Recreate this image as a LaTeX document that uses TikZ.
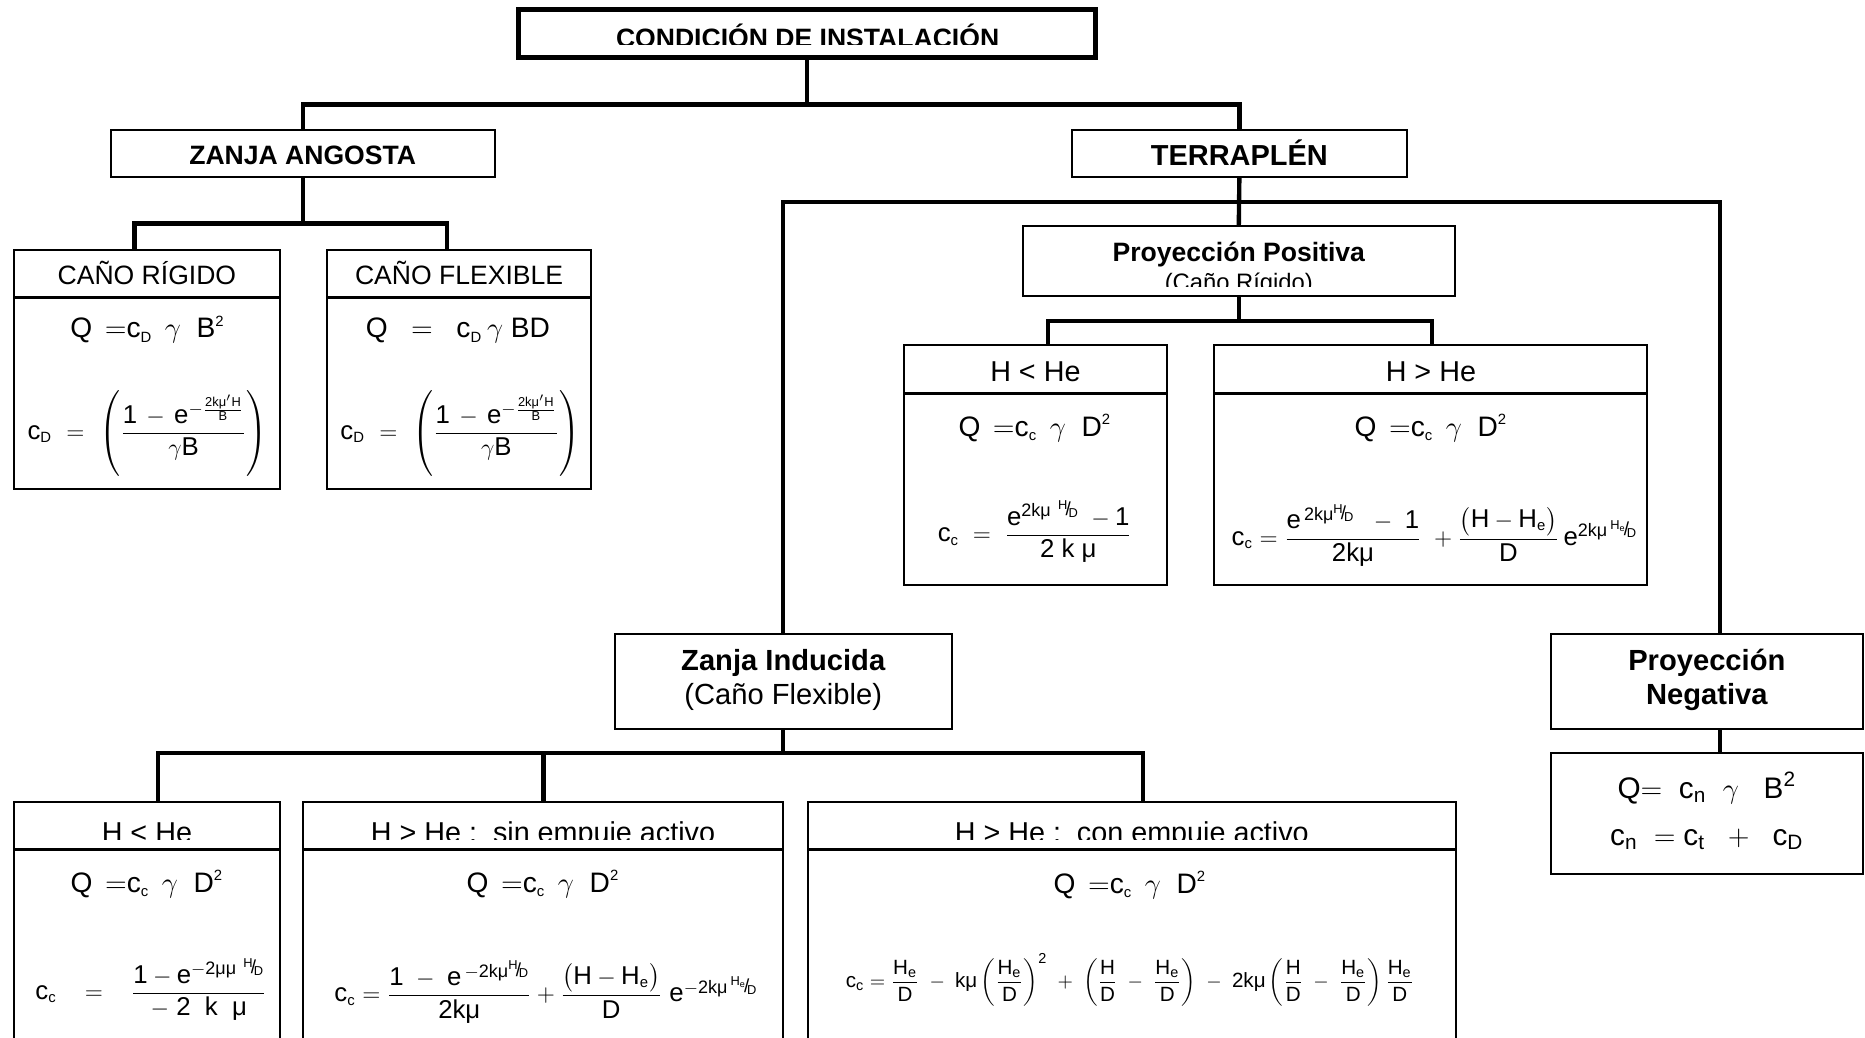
\documentclass[tikz,border=0pt]{standalone}
\usepackage{amsmath}
\usepackage{fontspec}
\setmainfont{Liberation Sans}
\usepackage{graphicx}
\newcommand\mt[1]{\text{#1}}
\newcommand\sbs[1]{\text{\fs{7.5}#1}}
\newcommand\fs[1]{\fontsize{#1}{#1}\selectfont}
\newcommand\slf[2]{\raisebox{0.4em}{\fs{6.5}#1}\kern-0.1em\raisebox{0.05em}{\fs{9.5}/}\kern-0.12em\raisebox{-0.05em}{\fs{6.5}#2}}
\newcommand\tallp{\rule[-19.5pt]{0pt}{44pt}}
\tikzset{
  bx/.style={draw, line width=1pt, inner sep=0pt, outer sep=0pt},
  conn/.style={line width=2.2pt, line join=miter},
  dv/.style={line width=1.4pt},
  hb/.style={font=\fs{13.4}\bfseries, anchor=base, inner sep=0pt},
  hr/.style={font=\fs{13.4}, anchor=base, inner sep=0pt},
  fm/.style={font=\fs{13}, inner sep=0pt},
  fq/.style={font=\fs{14.2}, inner sep=0pt, anchor=base},
}
\begin{document}
\begin{tikzpicture}[x=0.6pt,y=-0.6pt]
\clip (0,0) rectangle (1568,872);
\fill[white] (0,0) rectangle (1568,872);
% ---------- boxes ----------
\node[bx, line width=2.5pt, minimum width=485*0.6pt, minimum height=40*0.6pt] (top) at (678.5,28) {};
\node[bx, minimum width=323*0.6pt, minimum height=40*0.6pt] (zanja) at (254.5,129) {};
\node[bx, minimum width=282*0.6pt, minimum height=40*0.6pt] (terra) at (1042,129) {};
\node[bx, minimum width=223*0.6pt, minimum height=201*0.6pt] (rig) at (123.5,310.5) {};
\node[bx, minimum width=222*0.6pt, minimum height=201*0.6pt] (flex) at (386,310.5) {};
\node[bx, minimum width=363*0.6pt, minimum height=59*0.6pt] (ppos) at (1041.5,219.5) {};
\node[bx, minimum width=221*0.6pt, minimum height=202*0.6pt] (phl) at (870.5,391) {};
\node[bx, minimum width=364*0.6pt, minimum height=202*0.6pt] (phg) at (1203,391) {};
\node[bx, minimum width=283*0.6pt, minimum height=80*0.6pt] (zind) at (658.5,573) {};
\node[bx, minimum width=262*0.6pt, minimum height=80*0.6pt] (pneg) at (1435,573) {};
\node[bx, minimum width=262*0.6pt, minimum height=102*0.6pt] (pnegf) at (1435,684) {};
\node[bx, minimum width=223*0.6pt, minimum height=276*0.6pt] (bhl) at (123.5,812) {};
\node[bx, minimum width=403*0.6pt, minimum height=276*0.6pt] (bsin) at (456.5,812) {};
\node[bx, minimum width=545*0.6pt, minimum height=276*0.6pt] (bcon) at (951.5,812) {};
% ---------- dividers ----------
\coordinate (dA) at (0,250);
\coordinate (dB) at (0,331);
\coordinate (dC) at (0,714);
\draw[dv] (rig.west |- dA) -- (rig.east |- dA);
\draw[dv] (flex.west |- dA) -- (flex.east |- dA);
\draw[dv] (phl.west |- dB) -- (phl.east |- dB);
\draw[dv] (phg.west |- dB) -- (phg.east |- dB);
\draw[dv] (bhl.west |- dC) -- (bhl.east |- dC);
\draw[dv] (bsin.west |- dC) -- (bsin.east |- dC);
\draw[dv] (bcon.west |- dC) -- (bcon.east |- dC);
% ---------- connectors ----------
\coordinate (h0) at (0,88);
\coordinate (j1) at (113,188);
\coordinate (j2) at (376,188);
\coordinate (j4) at (1446,170);
\coordinate (j5) at (881,270);
\coordinate (j6) at (1204,270);
\coordinate (j7) at (133,633);
\coordinate (j8) at (961,633);
\coordinate (j9) at (457,633);
\draw[conn] (top.south) -- (top.south |- h0);
\draw[conn] (zanja.north) |- (terra.north |- h0) -- (terra.north);
\draw[conn] (zanja.south) -- (zanja.south |- j1);
\draw[conn] (rig.north -| j1) |- (j2) -- (flex.north -| j2);
\draw[conn] (terra.south) -- (ppos.north);
\draw[conn] (zind.north) |- (j4) -- (pneg.north -| j4);
\draw[conn] (ppos.south) -- (ppos.south |- j5);
\draw[conn] (phl.north -| j5) |- (j6) -- (phg.north -| j6);
\draw[conn] (zind.south) -- (zind.south |- j7);
\draw[conn] (bhl.north -| j7) |- (j8) -- (bcon.north -| j8);
\draw[conn] (j9) -- (bsin.north -| j9);
\draw[conn] (pneg.south -| j4) -- (pnegf.north -| j4);
% ---------- titles ----------
\begin{scope}
\clip (436,8) rectangle (921,37.5);
\node[hb] (topT) at (679,40) {CONDICIÓN DE INSTALACIÓN};
\end{scope}
\node[hb] (zanjaT) at (254.5,138.7) {ZANJA ANGOSTA};
\node[hb, font=\fs{14.6}\bfseries] (terraT) at (1042,139) {TERRAPLÉN};
\node[hr] (rigT) at (123.5,239.6) {CAÑO RÍGIDO};
\node[hr] (flexT) at (386,239.6) {CAÑO FLEXIBLE};
\node[hb] (pposT) at (1041.5,219.5) {Proyección Positiva};
\begin{scope}
\clip (860,190) rectangle (1223,241);
\node[hr, font=\fs{12}] (pposS) at (1041.5,244.5) {(Caño Rígido)};
\end{scope}
\node[hr, font=\fs{14.5}] (phlT) at (870.5,321) {H < He};
\node[hr, font=\fs{14.5}] (phgT) at (1203,321) {H > He};
\node[hb, font=\fs{14.7}\bfseries] (zindT) at (658.5,563.3) {Zanja Inducida};
\node[hr, font=\fs{14.7}] (zindS) at (658.5,592.7) {(Caño Flexible)};
\node[hb, font=\fs{14.7}\bfseries] (pnegT) at (1435,564) {Proyección};
\node[hb, font=\fs{14.7}\bfseries] (pnegS) at (1435,592.7) {Negativa};
\begin{scope}
\clip (0,674) rectangle (1300,705.5);
\node[hr, font=\fs{14.5}] (bhlT) at (123.5,708) {H < He};
\node[hr, font=\fs{14.5}] (bsinT) at (456.5,708) {H > He :\ \ sin empuje activo};
\node[hr, font=\fs{14.5}] (bconT) at (951.5,708) {H > He :\ \ con empuje activo};
\end{scope}
% ---------- formulas ----------
\node[fq] (rigQ) at (124,284) {$\mt{Q}\ \,{=}\mt{c}_{\sbs{D}}\ \,\gamma\ \ \mt{B}^{\sbs{2}}$};
\node[fm] (rigC) at (124,365) {$\mt{c}_{\sbs{D}}\ \ {=}\ \,\left(\tallp\dfrac{\mt{1}\,-\,\mt{e}^{-\frac{\mt{2kμ}'\mt{H}}{\mt{B}}}}{\gamma\mt{B}}\right)$};
\node[fq] (flexQ) at (385,284) {$\mt{Q}\ \ \ {=}\ \ \ \mt{c}_{\sbs{D}}\,\gamma\ \mt{BD}$};
\node[fm] (flexC) at (387,365) {$\mt{c}_{\sbs{D}}\ \ {=}\ \,\left(\tallp\dfrac{\mt{1}\,-\,\mt{e}^{-\frac{\mt{2kμ}'\mt{H}}{\mt{B}}}}{\gamma\mt{B}}\right)$};
\node[fq] (phlQ) at (870,367) {$\mt{Q}\ \,{=}\mt{c}_{\sbs{c}}\ \,\gamma\ \ \mt{D}^{\sbs{2}}$};
\node[fm] (phlC) at (870,447) {$\mt{c}_{\sbs{c}}\ =\ \dfrac{\mt{e}^{\mt{2kμ}\ \mt{\slf{H}{D}}}\ -\mt{1}}{\mt{2 k μ}}$};
\node[fq] (phgQ) at (1203,367) {$\mt{Q}\ \,{=}\mt{c}_{\sbs{c}}\ \,\gamma\ \ \mt{D}^{\sbs{2}}$};
\node[fm] (phgC) at (1206,450) {$\mt{c}_{\sbs{c}} = \dfrac{\mt{e}^{\,\mt{2kμ\slf{H}{D}}}\ \ -\ \mt{1}}{\mt{2kμ}}\ +\dfrac{\bigl(\mt{H}-\mt{H}_{\sbs{e}}\bigr)}{\mt{D}}\,\mt{e}^{\mt{2kμ}\,\mt{\slf{H\textsubscript{e}}{D}}}$};
\node[fq] (bhlQ) at (123.5,750) {$\mt{Q}\ \,{=}\mt{c}_{\sbs{c}}\ \,\gamma\ \ \mt{D}^{\sbs{2}}$};
\node[fm] (bhlC) at (127,832) {$\mt{c}_{\sbs{c}}\ \ \ =\ \ \ \dfrac{\mt{1}-\mt{e}^{-\mt{2μμ}\ \mt{\slf{H}{D}}}}{-\ \mt{2\ \ k\ \ μ}}$};
\node[fq] (bsinQ) at (456.5,750) {$\mt{Q}\ \,{=}\mt{c}_{\sbs{c}}\ \,\gamma\ \ \mt{D}^{\sbs{2}}$};
\node[fm] (bsinC) at (459,834) {$\mt{c}_{\sbs{c}} = \dfrac{\mt{1}\ -\ \mt{e}^{\,-\mt{2kμ\slf{H}{D}}}}{\mt{2kμ}}+\dfrac{\bigl(\mt{H}-\mt{H}_{\sbs{e}}\bigr)}{\mt{D}}\ \mt{e}^{-\mt{2kμ}\,\mt{\slf{H\textsubscript{e}}{D}}}$};
\node[fq] (bconQ) at (950,751) {$\mt{Q}\ \,{=}\mt{c}_{\sbs{c}}\ \,\gamma\ \ \mt{D}^{\sbs{2}}$};
\node[fm, font=\fs{10.4}] (bconC) at (950,824) {$\mt{c}_{\mt{c}} = \dfrac{\mt{H}_{\mt{e}}}{\mt{D}}\ -\ \mt{kμ}\left(\dfrac{\mt{H}_{\mt{e}}}{\mt{D}}\right)^{\mt{2}}\ +\ \left(\dfrac{\mt{H}}{\mt{D}}\ -\ \dfrac{\mt{H}_{\mt{e}}}{\mt{D}}\right)\ -\ \mt{2kμ}\left(\dfrac{\mt{H}}{\mt{D}}\ -\ \dfrac{\mt{H}_{\mt{e}}}{\mt{D}}\right)\dfrac{\mt{H}_{\mt{e}}}{\mt{D}}$};
\node[fq, font=\fs{15}] (pnegQ) at (1435,671) {$\mt{Q}{=}\ \ \mt{c}_{\mt{n}}\ \ \gamma\ \ \ \mt{B}^{\mt{2}}$};
\node[fq, font=\fs{15}] (pnegC) at (1435,710.5) {$\mt{c}_{\mt{n}}\ =\mt{c}_{\mt{t}}\ \ +\ \ \mt{c}_{\mt{D}}$};
\end{tikzpicture}
\end{document}
